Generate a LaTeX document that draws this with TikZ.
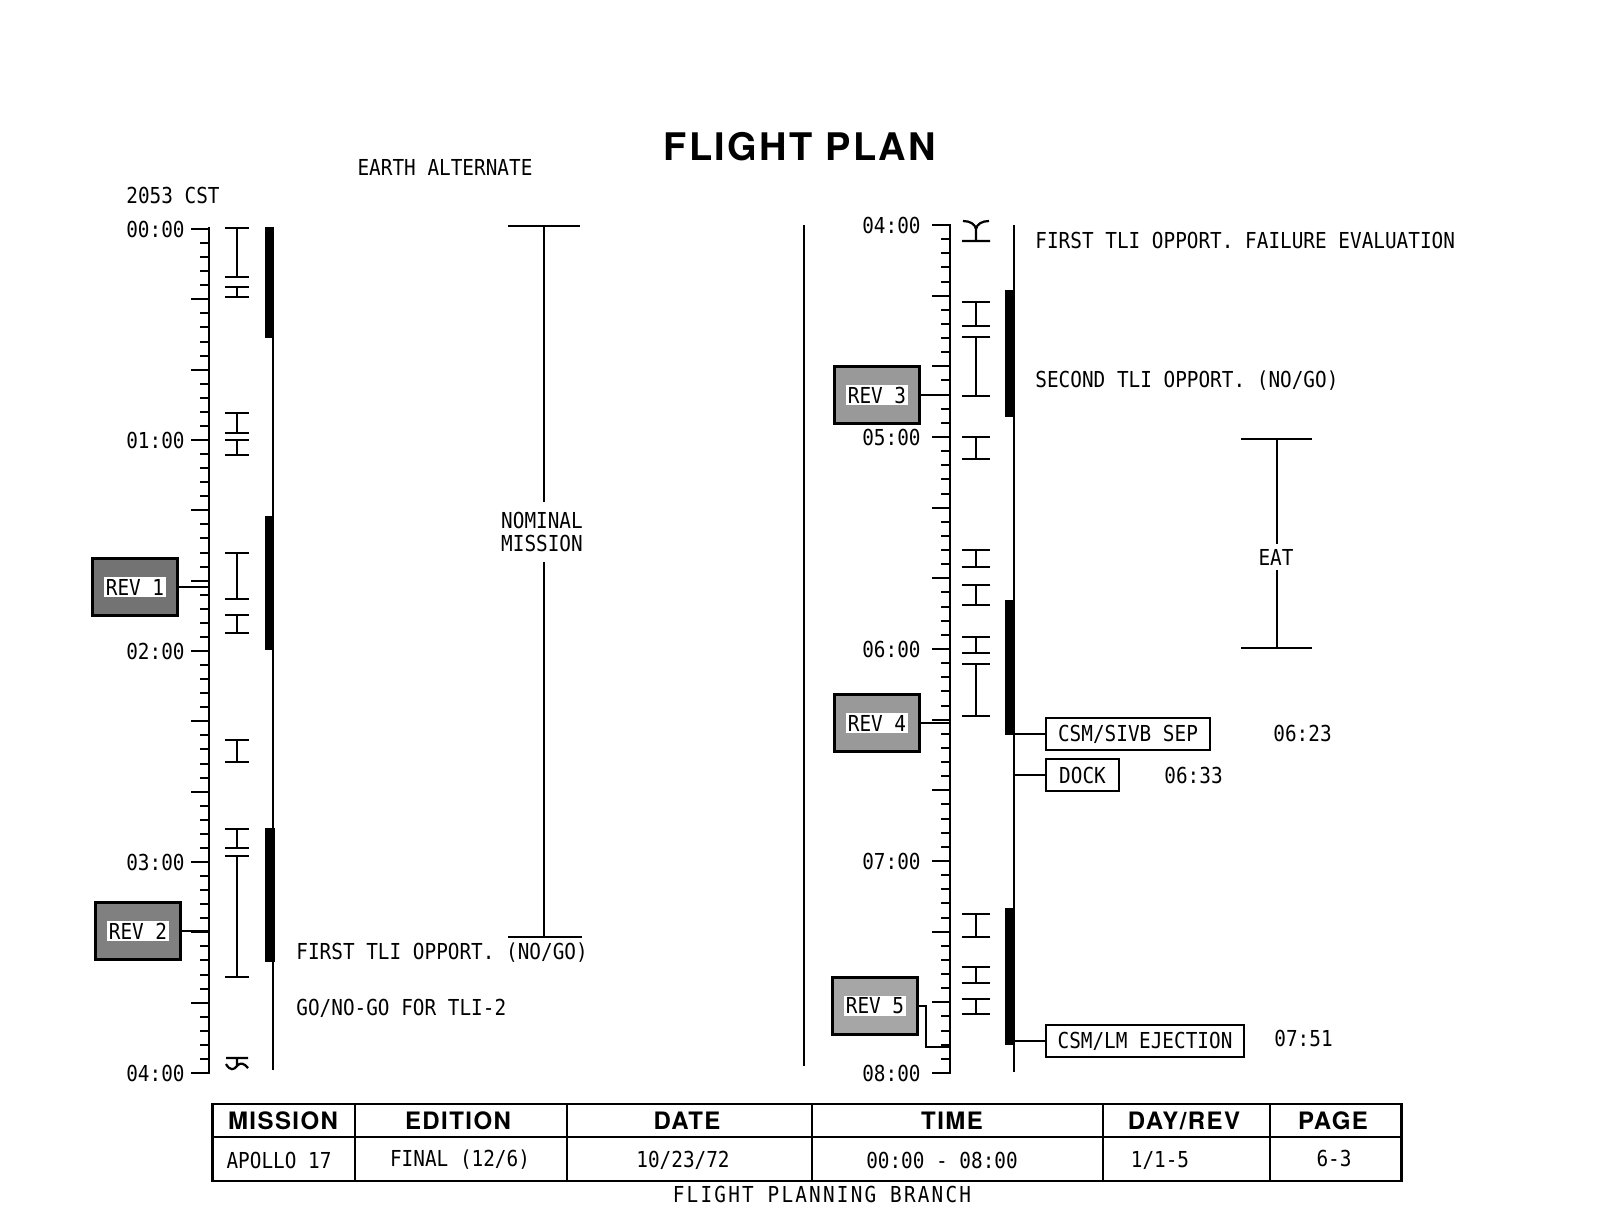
\documentclass[tikz,border=0pt]{standalone}
\usepackage{fontspec}
\setmainfont{DejaVu Sans Mono}[FakeStretch=0.88]
\newfontfamily\headfont{TeX Gyre Heros}[LetterSpace=6]
\usetikzlibrary{positioning}
\newcommand{\revtag}[1]{{\setlength{\fboxsep}{1pt}\colorbox{white}{#1}}}

\begin{document}
\begin{tikzpicture}[x=0.5pt, y=-0.5pt, font=\fontsize{11}{11.5}\selectfont,
  axis/.style={line width=1.2pt},
  tick/.style={line width=1pt},
  beam/.style={line width=1.1pt},
  lbl/.style={anchor=west, inner sep=0pt},
  hour/.style={anchor=east, inner sep=0pt},
  revbox/.style={draw, line width=1.1pt, fill=#1, minimum width=42.5pt, minimum height=28.5pt, inner sep=0pt},
  evbox/.style={draw, line width=1pt, anchor=west, minimum height=16pt, inner sep=2pt},
  hdr/.style={font=\headfont\bfseries\fontsize{12}{12}\selectfont}]
\useasboundingbox (0,0) rectangle (1615,1216);

\node[font=\headfont\bfseries\fontsize{19}{19}\selectfont] (title) at (800,147) {FLIGHT PLAN};
\node (alt) at (445,167) {EARTH ALTERNATE};
\node[lbl] (cst) at (126,195) {2053 CST};

% time scales
\coordinate (la0) at (209,227); \coordinate (la4) at (209,1074);
\coordinate (ra0) at (950,224); \coordinate (ra4) at (950,1074);
\draw[axis] (la0) -- (la4);
\draw[axis] (ra0) -- (ra4);
\foreach \i in {0,...,60}{
  \pgfmathsetmacro{\len}{mod(\i,5)==0 ? 18 : 9}
  \draw[tick] (209,{229+\i*211/15}) -- ++(-\len,0);
  \draw[tick] (950,{225+\i*212/15}) -- ++(-\len,0);
}
\foreach \h in {0,...,4} \node[hour] (lh\h) at (185,{229+\h*211}) {0\h:00};
\foreach \h in {4,...,8} \node[hour] (rh\h) at (921,{225+(\h-4)*212}) {0\h:00};

% windows
\foreach \a/\b in {228/277, 287/297, 413/433, 440/455, 553/599, 615/633, 740/762, 829/848, 856/977}
  \draw[beam] (225,\a) -- (249,\a) (237,\a) -- (237,\b) (225,\b) -- (249,\b);
\draw[beam] (226,1058) -- (248,1058) (237,1058) -- (237,1066)
  (226,1064) .. controls (230,1071) and (234,1070) .. (237,1066) .. controls (240,1062) and (244,1063) .. (248,1068);
\foreach \a/\b in {302/326, 337/396, 437/459, 550/567, 585/605, 637/653, 664/716, 914/937, 967/983, 999/1014}
  \draw[beam] (962,\a) -- (990,\a) (976,\a) -- (976,\b) (962,\b) -- (990,\b);
\draw[beam] (963,221) .. controls (970,221) and (975,224) .. (976,229) .. controls (977,224) and (982,221) .. (989,221)
  (976,229) -- (976,241) (962,241) -- (990,241);

% activity bars
\draw[tick] (273,227) -- (273,1070);
\fill (265,227) rectangle (274,338);
\fill (265,516) rectangle (274,650);
\fill (265,828) rectangle (275,962);
\draw[tick] (1014,225) -- (1014,1072);
\fill (1005,290) rectangle (1015,417);
\fill (1005,600) rectangle (1015,735);
\fill (1005,908) rectangle (1015,1045);

% revs
\node[revbox=black!55] (rev1) at (135,587) {\revtag{REV 1}};
\node[revbox=black!50] (rev2) at (138,931) {\revtag{REV 2}};
\node[revbox=black!40] (rev3) at (877,395) {\revtag{REV 3}};
\node[revbox=black!40] (rev4) at (877,723) {\revtag{REV 4}};
\node[revbox=black!35] (rev5) at (875,1006) {\revtag{REV 5}};
\coordinate (t1) at (209,587);
\coordinate (t2) at (209,931);
\coordinate (t3) at (950,395);
\coordinate (t4) at (950,723);
\coordinate (t5) at (950,1047);
\draw[tick] (rev1.east) -- (t1);
\draw[tick] (rev2.east) -- (t2);
\draw[tick] (rev3.east) -- (t3);
\draw[tick] (rev4.east) -- (t4);
\draw[tick] (rev5.east) -- ++(7,0) |- (t5);

% nominal mission
\coordinate (nm0) at (544,226); \coordinate (nm1) at (544,937);
\draw[beam] (508,226) -- (580,226) (nm0) -- (nm1) (508,937) -- (582,937);
\node[fill=white, align=center, inner xsep=2pt, inner ysep=5pt] (nom) at (542,532) {NOMINAL\\MISSION};
\node[lbl] (tli1) at (296,953) {FIRST TLI OPPORT. (NO/GO)};
\node[lbl] (gonogo) at (296,1008) {GO/NO-GO FOR TLI-2};

% divider
\draw[axis] (804,225) -- (804,1066);

% right page texts
\node[lbl] (fail) at (1035,240) {FIRST TLI OPPORT. FAILURE EVALUATION};
\node[lbl] (tli2) at (1035,381) {SECOND TLI OPPORT. (NO/GO)};
\coordinate (eat0) at (1277,439); \coordinate (eat1) at (1277,648);
\draw[beam] (1241,439) -- (1312,439) (eat0) -- (eat1) (1241,648) -- (1312,648);
\node[fill=white, inner xsep=2pt, inner ysep=2.5pt] (eat) at (1276,557) {EAT};

% events
\coordinate (e1) at (1014,734);
\coordinate (e2) at (1014,775);
\coordinate (e3) at (1014,1041);
\node[evbox, minimum width=82pt] (sep) at (1045,734) {CSM/SIVB SEP};
\node[evbox, minimum width=36.5pt] (dock) at (1045,775) {DOCK};
\node[evbox, minimum width=99pt] (eject) at (1045,1041) {CSM/LM EJECTION};
\draw[tick] (e1) -- (sep.west);
\draw[tick] (e2) -- (dock.west);
\draw[tick] (e3) -- (eject.west);
\node[lbl] (tsep) at (1273,733) {06:23};
\node[lbl, right=22pt of dock] (tdock) {06:33};
\node[lbl] (teject) at (1274,1038) {07:51};

% title block
\draw[line width=1.3pt] (212.7,1104) rectangle (1401.7,1181);
\draw[line width=1.1pt] (212.7,1137) -- (1401.7,1137);
\foreach \x in {355,566.7,811.7,1103.3,1270}
  \draw[line width=1.1pt] (\x,1104) -- (\x,1181);
\node[hdr] (hmis) at (283,1121) {MISSION};
\node[hdr] (hedi) at (458,1121) {EDITION};
\node[hdr] (hdat) at (687,1121) {DATE};
\node[hdr] (htim) at (952,1121) {TIME};
\node[hdr] (hday) at (1184,1121) {DAY/REV};
\node[hdr] (hpag) at (1333,1121) {PAGE};
\node (dmis) at (279,1160) {APOLLO 17};
\node (dedi) at (460,1160) {FINAL (12/6)};
\node (ddat) at (683,1160) {10/23/72};
\node (dtim) at (942,1160) {00:00 - 08:00};
\node (dday) at (1160,1160) {1/1-5};
\node (dpag) at (1334,1158) {6-3};
\node[font=\fontsize{11}{11}\selectfont\addfontfeature{LetterSpace=10}] (branch) at (822,1194) {FLIGHT PLANNING BRANCH};
\end{tikzpicture}
\end{document}
